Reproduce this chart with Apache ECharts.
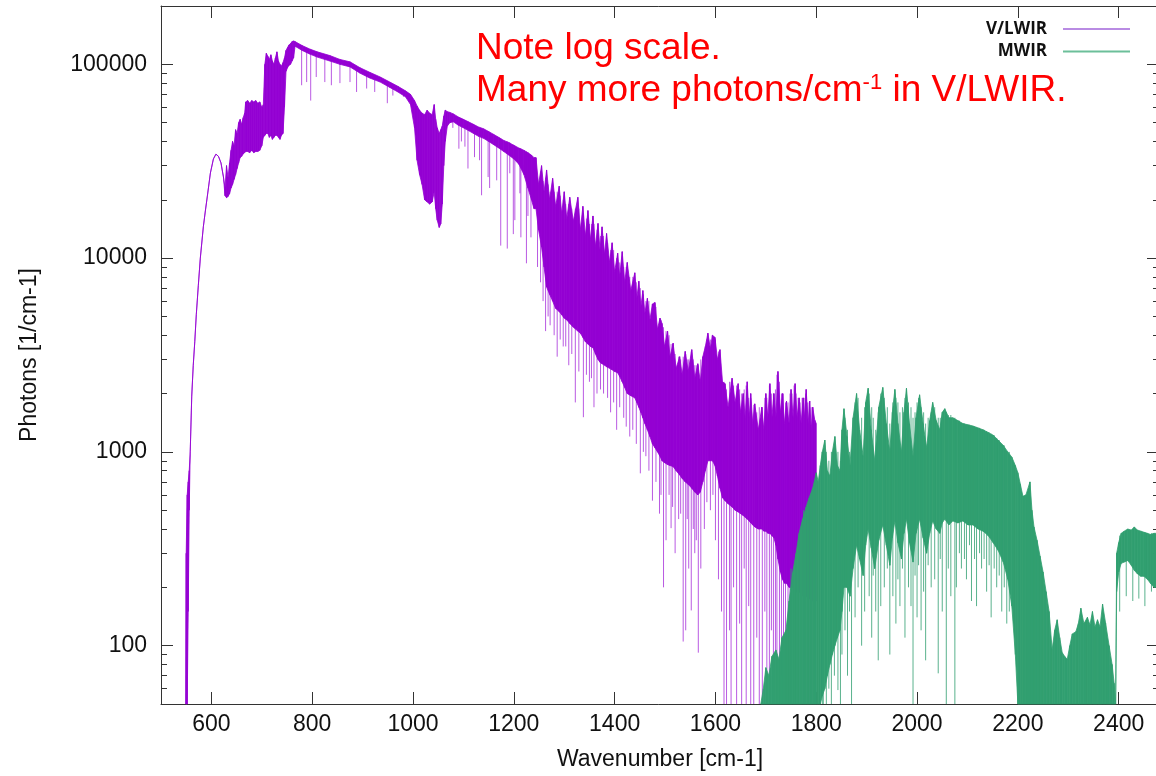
<!DOCTYPE html>
<html>
<head>
<meta charset="utf-8">
<script src="https://cdn.jsdelivr.net/npm/echarts/dist/echarts.min.js"></script>
<style>
html,body{margin:0;padding:0;background:#ffffff;}
#chart{width:1156px;height:776px;}
</style>
</head>
<body>
<div id="chart"></div>
<script>
// ---------- axis ticks ----------
const xTickValues = [600, 800, 1000, 1200, 1400, 1600, 1800, 2000, 2200, 2400];
const yMajorValues = [100, 1000, 10000, 100000];
const yMinorValues = [60, 70, 80, 90, 200, 300, 400, 500, 600, 700, 800, 900,
  2000, 3000, 4000, 5000, 6000, 7000, 8000, 9000,
  20000, 30000, 40000, 50000, 60000, 70000, 80000, 90000];

// ---------- V/LWIR spectrum: [wavenumber, upper envelope, lower envelope] ----------
const vlRise = [
  [549, 40, 40], [550, 300, 40], [552, 600, 40], [554, 700, 150], [556, 800, 500],
  [558, 1000, 1000], [561, 1940, 1940], [564, 2800, 2800], [567, 3700, 3700], [570, 5100, 5100],
  [574, 7200, 7200], [578, 10000, 10000], [584, 14500, 14500], [588, 17500, 17500], [592, 20900, 20900],
  [598, 27500, 27500], [604, 32500, 32500], [609, 34400, 34400], [614, 33500, 33500], [619, 31000, 31000],
  [624, 26200, 26000], [627, 23000, 21000]
];
const vlLowBand = [
  [630, 30000, 20500], [633, 26000, 20800], [636, 31000, 21500], [639, 36000, 23000], [642, 40000, 24000],
  [645, 38000, 25500], [648, 46000, 27000], [651, 44000, 29000], [654, 50000, 31000], [657, 52000, 33000],
  [660, 49000, 33500], [663, 53000, 34500], [666, 56000, 35000], [668, 64000, 35500], [672, 65000, 35500],
  [676, 63000, 35000], [680, 65000, 36000], [684, 64000, 35000], [688, 65000, 35500], [692, 63000, 35500],
  [696, 64000, 36000], [700, 60000, 38000], [703, 62000, 42000], [706, 100000, 43000], [709, 114000, 44000],
  [712, 110000, 44000], [715, 106000, 42000], [718, 112000, 43000], [721, 104000, 41000], [724, 100000, 42000],
  [727, 108000, 43000], [730, 116000, 43000], [733, 104000, 42000], [736, 100000, 41000], [739, 98000, 43000],
  [742, 102000, 44000], [745, 108000, 60000], [748, 118000, 92000], [751, 122000, 96000], [754, 126000, 99000],
  [757, 128000, 100000], [760, 131000, 104000], [763, 132000, 108000]
];
const vlWindow = [
  [766, 131000, 124000], [780, 125000, 118000], [795, 120000, 113000], [810, 116000, 109000], [835, 111000, 104000],
  [855, 106000, 100000], [875, 103000, 97000], [895, 96000, 90000], [914, 91000, 85000], [935, 86000, 81000],
  [954, 81000, 76000], [970, 77000, 72000], [985, 73000, 68000], [995, 70000, 62000], [1003, 65000, 47000],
  [1008, 61000, 32000], [1013, 58000, 27000], [1018, 56000, 24000], [1023, 55000, 20000], [1028, 58000, 19500],
  [1033, 56000, 19000], [1038, 55000, 19500], [1042, 62000, 22000], [1045, 52000, 18000], [1048, 47000, 15700],
  [1052, 44000, 14400], [1055, 46000, 15000], [1058, 48000, 19000], [1061, 54000, 30000], [1064, 58000, 40000],
  [1068, 57000, 48000], [1073, 56500, 50000], [1080, 55500, 50500], [1090, 53500, 48500], [1100, 52000, 47000],
  [1110, 50500, 45500], [1120, 49000, 44000], [1130, 47500, 42500], [1140, 46500, 41500], [1150, 45000, 40000],
  [1160, 43500, 38500], [1170, 42000, 37000], [1180, 40500, 35500], [1190, 39500, 34000], [1200, 38200, 32500],
  [1210, 37000, 30500], [1220, 36000, 27000], [1228, 35000, 23000], [1235, 34000, 20000], [1240, 33000, 18000]
];
const vlDense = [
  [1244, 33000, 18000], [1249, 24000, 14000], [1255, 30000, 11400], [1260, 22000, 9000], [1265, 28500, 7100],
  [1271, 20000, 6500], [1277, 25800, 6000], [1283, 18500, 5500], [1290, 23500, 5300], [1295, 17000, 5100],
  [1300, 22000, 4900], [1305, 16000, 4800], [1311, 20600, 4600], [1318, 15500, 4400], [1327, 20600, 4200],
  [1332, 14000, 4100], [1337, 18500, 3900], [1342, 13000, 3700], [1347, 17600, 3600], [1352, 12500, 3500],
  [1357, 16500, 3450], [1362, 11500, 3200], [1367, 15100, 3000], [1371, 11000, 2900], [1375, 14500, 2850],
  [1380, 10500, 2800], [1384, 13400, 2750], [1390, 9500, 2700], [1395, 12000, 2650], [1400, 8500, 2600],
  [1406, 10600, 2560], [1410, 8000, 2450], [1415, 10800, 2300], [1420, 7500, 2150], [1425, 9500, 2000],
  [1432, 6800, 1950], [1440, 8400, 1900], [1444, 6200, 1800], [1448, 7600, 1700], [1452, 5600, 1600],
  [1456, 6800, 1500], [1460, 5200, 1400], [1465, 6200, 1300], [1470, 4800, 1200], [1475, 5800, 1100],
  [1480, 5900, 1050], [1485, 4300, 1000], [1490, 4900, 950], [1494, 4600, 900], [1499, 3500, 880],
  [1505, 4200, 860], [1510, 3100, 850], [1516, 3640, 840], [1522, 2700, 800], [1529, 3100, 760],
  [1534, 2500, 730], [1540, 3300, 700], [1546, 2600, 680], [1553, 3370, 650], [1559, 2400, 620],
  [1565, 2850, 600], [1570, 2300, 620], [1575, 3100, 700], [1580, 3500, 800], [1585, 4100, 900],
  [1590, 3400, 900], [1594, 4000, 900], [1599, 3900, 850], [1604, 3000, 750], [1609, 3370, 650],
  [1614, 2300, 580], [1619, 2250, 560], [1625, 1700, 540], [1633, 2400, 520], [1639, 1800, 500],
  [1645, 2250, 490], [1650, 1600, 480], [1655, 2000, 470], [1659, 1500, 460], [1663, 2300, 450],
  [1667, 1500, 440], [1670, 2000, 430], [1674, 1400, 420], [1678, 1770, 410], [1685, 1300, 400],
  [1692, 1700, 400], [1696, 1300, 390], [1700, 2000, 390], [1704, 1500, 380], [1708, 2250, 380],
  [1712, 1500, 370], [1716, 2000, 360], [1720, 1500, 330], [1724, 2600, 280], [1729, 1600, 240],
  [1733, 2000, 220], [1737, 1400, 210], [1741, 1830, 210], [1746, 1400, 200], [1750, 2100, 200],
  [1754, 1500, 200], [1758, 2250, 190], [1762, 1500, 190], [1766, 1900, 190], [1770, 1400, 185],
  [1774, 1900, 180], [1777, 1500, 180], [1780, 2100, 180], [1784, 1400, 175], [1787, 1830, 175],
  [1790, 1300, 170], [1793, 1700, 170], [1797, 1460, 170], [1800, 1400, 170]
];
// single absorption lines: [wavenumber, top, bottom]
const vlLines = [
  [779, 125000, 78000], [789, 121000, 81000], [797, 119000, 65000], [808, 116000, 86000], [825, 111000, 81000],
  [838, 108000, 78000], [855, 105000, 80000], [875, 101000, 81000], [888, 97000, 72000], [908, 91000, 75000],
  [924, 88000, 72000], [949, 81000, 63000], [960, 78000, 69000], [981, 73000, 68000],
  [1079, 55000, 47000], [1091, 53000, 36700], [1096, 52500, 40000], [1103, 51500, 37600], [1109, 50500, 29000],
  [1122, 48500, 33200], [1132, 47000, 32000], [1136, 46500, 21100], [1149, 45000, 26200], [1152, 44500, 23000],
  [1166, 42500, 25200], [1174, 41500, 11600], [1187, 40000, 11200], [1192, 39500, 27400], [1199, 38500, 13300],
  [1202, 38000, 15700], [1212, 37000, 21600], [1214, 36800, 12800], [1225, 35500, 9400], [1228, 35000, 16500],
  [1234, 34000, 12800],
  [1247, 26000, 9000], [1253, 28000, 7500], [1258, 25000, 6000], [1263, 26000, 4200], [1268, 24000, 5000],
  [1272, 22000, 4500], [1280, 22000, 4000], [1286, 22000, 3100], [1292, 21000, 3800], [1298, 20000, 3500],
  [1303, 19000, 3500], [1309, 19000, 2800], [1315, 18000, 3200], [1322, 18000, 1800], [1329, 18000, 2600],
  [1338, 17000, 1510], [1344, 16000, 2500], [1350, 15000, 2300], [1354, 15000, 2400], [1359, 15000, 1700],
  [1365, 14000, 2000], [1372, 13000, 2100], [1378, 13000, 2000], [1386, 12000, 1900], [1392, 11000, 1600],
  [1398, 11000, 1800], [1404, 10000, 1300], [1410, 9500, 1700], [1418, 9000, 1500], [1423, 9000, 1350],
  [1430, 8000, 1200], [1436, 8000, 1300], [1443, 7500, 1100], [1451, 7000, 775], [1457, 6500, 1000],
  [1462, 6000, 950], [1468, 6000, 800], [1475, 5800, 560], [1482, 5600, 700], [1489, 4800, 480],
  [1492, 4800, 600], [1497, 4400, 200], [1502, 4200, 350], [1508, 4000, 600], [1512, 3600, 404],
  [1515, 3600, 520], [1520, 3200, 300], [1527, 3100, 450], [1531, 3000, 480], [1536, 3100, 105],
  [1541, 3200, 120], [1544, 3000, 450], [1547, 3000, 250], [1552, 3300, 152], [1556, 3000, 400],
  [1559, 2800, 300], [1562, 2800, 350], [1566, 2800, 92], [1571, 3000, 250], [1578, 3300, 400],
  [1583, 3800, 550], [1590, 3800, 500], [1595, 3900, 600], [1600, 3800, 350], [1606, 3300, 220],
  [1612, 2500, 150],
  [1617, 2300, 40], [1622, 2100, 40], [1628, 2300, 120], [1631, 2300, 40], [1636, 2200, 200],
  [1642, 2200, 40], [1648, 2100, 130], [1652, 2000, 40], [1657, 2100, 250], [1661, 2200, 40],
  [1666, 1900, 160], [1670, 1900, 40], [1676, 1750, 40], [1682, 1600, 110], [1687, 1700, 40],
  [1693, 1700, 40], [1698, 1900, 150], [1702, 1900, 40], [1707, 2200, 40], [1711, 2000, 120],
  [1715, 2000, 40], [1719, 2100, 90], [1722, 2500, 40], [1727, 2300, 40], [1731, 2000, 70],
  [1735, 2000, 40], [1739, 1800, 40], [1744, 1800, 90], [1748, 2000, 40], [1752, 2000, 40],
  [1756, 2200, 40], [1760, 2000, 60], [1764, 1900, 40], [1768, 1800, 40], [1772, 1900, 40],
  [1776, 1900, 80], [1779, 2000, 40], [1783, 1800, 40], [1786, 1800, 40], [1790, 1700, 60],
  [1793, 1700, 40], [1797, 1400, 40]
];

// ---------- MWIR spectrum: [wavenumber, upper envelope, lower envelope] ----------
const mwRise = [
  [1690, 40, 40], [1695, 60, 40], [1700, 77, 40], [1706, 70, 40], [1712, 88, 40],
  [1720, 95, 40], [1726, 85, 40], [1732, 110, 40], [1740, 120, 40], [1746, 170, 40],
  [1753, 237, 40], [1760, 300, 40], [1766, 380, 40], [1773, 450, 40], [1780, 520, 40],
  [1786, 580, 40], [1793, 650, 40], [1800, 780, 40], [1804, 700, 45], [1808, 850, 50],
  [1812, 1000, 55], [1817, 1150, 60], [1822, 800, 70], [1827, 750, 80], [1832, 1000, 90],
  [1837, 1200, 100], [1842, 850, 110], [1847, 800, 120], [1851, 1300, 150], [1855, 1670, 200],
  [1861, 1200, 200], [1867, 850, 180], [1873, 1500, 250]
];
const mwPeak = [
  [1880, 2000, 330], [1886, 1300, 280], [1893, 950, 230], [1898, 1800, 330], [1903, 2130, 400],
  [1909, 1300, 320], [1916, 900, 250], [1924, 1700, 350], [1932, 2150, 420], [1939, 1400, 330],
  [1946, 1000, 260], [1951, 1600, 360], [1956, 2100, 440], [1962, 1400, 340], [1969, 1000, 280],
  [1974, 1600, 380], [1979, 2130, 450], [1985, 1400, 340], [1992, 950, 270], [1998, 1500, 380],
  [2005, 1970, 450], [2012, 1400, 360], [2019, 1050, 300], [2025, 1450, 380], [2031, 1800, 440],
  [2038, 1450, 400], [2045, 1300, 380], [2050, 1600, 430], [2055, 1670, 450], [2063, 1500, 420],
  [2071, 1500, 440], [2081, 1450, 430], [2091, 1400, 440], [2101, 1380, 420], [2111, 1360, 420],
  [2121, 1330, 400], [2131, 1300, 390], [2141, 1260, 370], [2151, 1220, 340], [2161, 1150, 310],
  [2171, 1080, 270], [2180, 1000, 220], [2188, 940, 160], [2195, 850, 90], [2200, 780, 40]
];
const mwTail = [
  [2205, 680, 40], [2210, 590, 40], [2216, 600, 40], [2224, 700, 40], [2228, 500, 40],
  [2232, 410, 40], [2238, 350, 40], [2244, 290, 40], [2250, 240, 40], [2256, 190, 40],
  [2262, 150, 40], [2268, 95, 40], [2273, 120, 40], [2278, 136, 40], [2283, 110, 40],
  [2288, 92, 40], [2293, 88, 40], [2298, 85, 40], [2303, 100, 40], [2308, 115, 40],
  [2315, 118, 40], [2320, 130, 40], [2325, 156, 40], [2331, 130, 40], [2338, 140, 40],
  [2343, 128, 40], [2348, 150, 40], [2353, 125, 40], [2358, 136, 40], [2363, 125, 40],
  [2368, 164, 40], [2374, 131, 40], [2381, 100, 40], [2387, 80, 40], [2391, 64, 40],
  [2394, 50, 40], [2396, 300, 190], [2400, 340, 240], [2405, 380, 266], [2411, 390, 270],
  [2418, 400, 275], [2425, 395, 260], [2431, 410, 245], [2437, 395, 235], [2444, 390, 228],
  [2450, 385, 228], [2457, 380, 220], [2463, 375, 210], [2470, 380, 200], [2476, 380, 200],
  [2480, 375, 200]
];
const mwLines = [
  [1750, 250, 40], [1760, 280, 40], [1775, 500, 40], [1782, 520, 40], [1790, 600, 40],
  [1798, 700, 40], [1812, 1000, 40], [1814, 1000, 40], [1820, 1000, 45], [1825, 900, 60],
  [1830, 1000, 40], [1836, 1100, 70], [1843, 1000, 59], [1848, 900, 40], [1851, 1200, 90],
  [1857, 1500, 120], [1862, 1300, 70], [1866, 1000, 150], [1870, 1000, 40], [1877, 1800, 140],
  [1883, 1900, 200], [1890, 1500, 100], [1896, 1700, 150], [1905, 2000, 180], [1910, 1700, 110],
  [1913, 1500, 230], [1918, 1300, 150], [1923, 1600, 84], [1928, 2000, 160], [1935, 1900, 200],
  [1941, 1700, 250], [1946, 1400, 90], [1952, 1800, 180], [1958, 1900, 130], [1962, 1800, 220],
  [1966, 1600, 160], [1971, 1700, 250], [1976, 1900, 110], [1983, 1800, 200], [1988, 1700, 160],
  [1992, 1500, 40], [1996, 1600, 230], [2000, 1800, 140], [2003, 1900, 260], [2008, 1700, 120],
  [2013, 1600, 190], [2017, 1400, 84], [2022, 1500, 260], [2028, 1600, 200], [2035, 1700, 220],
  [2042, 1500, 72], [2046, 1500, 280], [2050, 1500, 150], [2058, 1600, 40], [2062, 1550, 250],
  [2067, 1550, 180], [2075, 1500, 40], [2078, 1450, 200], [2084, 1450, 300], [2088, 1400, 250],
  [2094, 1400, 280], [2098, 1380, 220], [2104, 1380, 330], [2108, 1360, 170], [2114, 1350, 280],
  [2118, 1340, 160], [2124, 1330, 300], [2128, 1300, 250], [2133, 1300, 280], [2138, 1280, 190],
  [2143, 1260, 260], [2147, 1240, 140], [2153, 1220, 250], [2158, 1180, 200], [2163, 1150, 230],
  [2168, 1100, 150], [2173, 1080, 200], [2178, 1000, 130], [2183, 1000, 150],
  [2402, 370, 150], [2415, 390, 180], [2428, 400, 170], [2440, 390, 175], [2452, 385, 160],
  [2465, 380, 190]
];

const vlBand = vlRise.concat(vlLowBand, vlWindow, vlDense);
const mwBand = mwRise.concat(mwPeak, mwTail);

// ---------- styling ----------
const FONT = '"Liberation Sans", Arial, Helvetica, sans-serif';
const PURPLE = '#9400d3';
const PURPLE_LINE = 'rgba(148,0,211,0.65)';
const GREEN = '#319f70';
const GREEN_LINE = 'rgba(49,159,112,0.8)';
const AXIS_COLOR = '#333333';

function clampToGrid(pt, cs) {
  return [pt[0], Math.min(cs.y + cs.height, Math.max(cs.y, pt[1]))];
}
function bandRenderer(rows, color) {
  return function (params, api) {
    const i = params.dataIndex;
    if (i >= rows.length - 1) return null;
    const a = rows[i], b = rows[i + 1];
    const cs = params.coordSys;
    const pts = [
      clampToGrid(api.coord([a[0], a[1]]), cs),
      clampToGrid(api.coord([b[0], b[1]]), cs),
      clampToGrid(api.coord([b[0], b[2]]), cs),
      clampToGrid(api.coord([a[0], a[2]]), cs)
    ];
    return {
      type: 'polygon',
      shape: { points: pts },
      style: { fill: color, stroke: color, lineWidth: 0.8 }
    };
  };
}
function lineRenderer(rows, color) {
  return function (params, api) {
    const r = rows[params.dataIndex];
    const cs = params.coordSys;
    const p1 = clampToGrid(api.coord([r[0], r[1]]), cs);
    const p2 = clampToGrid(api.coord([r[0], r[2]]), cs);
    return {
      type: 'line',
      shape: { x1: p1[0], y1: p1[1], x2: p2[0], y2: p2[1] },
      style: { stroke: color, lineWidth: 1 }
    };
  };
}

function logAxis(position, opts) {
  return Object.assign({
    type: 'log', logBase: 10, min: 50, max: 200000, position: position,
    gridIndex: 0, splitLine: { show: false }, minorTick: { show: false },
    axisLine: { show: true, onZero: false, lineStyle: { color: AXIS_COLOR, width: 1 } },
    axisLabel: { show: false }
  }, opts);
}

const chart = echarts.init(document.getElementById('chart'), null, { renderer: 'canvas' });
chart.setOption({
  animation: false,
  backgroundColor: '#ffffff',
  grid: { left: 161, right: -3, top: 6, bottom: 72, containLabel: false, outerBoundsMode: 'none' },
  legend: {
    data: [
      { name: 'V/LWIR', icon: 'rect', itemStyle: { color: '#b98be3' } },
      { name: 'MWIR', icon: 'rect', itemStyle: { color: '#6cbf9a' } }
    ],
    orient: 'vertical', align: 'right', right: 26, top: 20, padding: 0,
    itemWidth: 67, itemHeight: 2, itemGap: 4.5, selectedMode: false,
    textStyle: { fontFamily: '"Open Sans", "Noto Sans", sans-serif', fontWeight: 'bold', fontSize: 17,
      color: '#111111', lineHeight: 18, padding: [0, 11, 0, 0] }
  },
  xAxis: [
    {
      type: 'value', min: 500, max: 2480, position: 'bottom', gridIndex: 0,
      name: 'Wavenumber [cm-1]', nameLocation: 'middle', nameGap: 44, nameMoveOverlap: false,
      nameTextStyle: { fontFamily: FONT, fontSize: 23, color: '#111111' },
      axisLine: { show: true, onZero: false, lineStyle: { color: AXIS_COLOR, width: 1 } },
      axisTick: { show: true, inside: true, length: 12, customValues: xTickValues, lineStyle: { color: AXIS_COLOR } },
      axisLabel: { show: true, customValues: xTickValues, margin: 9, fontFamily: FONT, fontSize: 23, color: '#111111',
        formatter: function (v) { return String(Math.round(v)); } },
      splitLine: { show: false }
    },
    {
      type: 'value', min: 500, max: 2480, position: 'top', gridIndex: 0,
      axisLine: { show: true, onZero: false, lineStyle: { color: AXIS_COLOR, width: 1 } },
      axisTick: { show: true, inside: true, length: 12, customValues: xTickValues, lineStyle: { color: AXIS_COLOR } },
      axisLabel: { show: false },
      splitLine: { show: false }
    }
  ],
  yAxis: [
    logAxis('left', {
      name: 'Photons [1/cm-1]', nameLocation: 'middle', nameGap: 120, nameMoveOverlap: false,
      nameTextStyle: { fontFamily: FONT, fontSize: 23, color: '#111111' },
      axisTick: { show: true, inside: true, length: 12, customValues: yMajorValues, lineStyle: { color: AXIS_COLOR } },
      axisLabel: { show: true, customValues: yMajorValues, margin: 14, fontFamily: FONT, fontSize: 23, color: '#111111',
        formatter: function (v) { return String(Math.round(v)); } }
    }),
    logAxis('left', {
      axisLine: { show: false },
      axisTick: { show: true, inside: true, length: 6, customValues: yMinorValues, lineStyle: { color: AXIS_COLOR } }
    }),
    logAxis('right', {
      axisTick: { show: true, inside: true, length: 12, customValues: yMajorValues, lineStyle: { color: AXIS_COLOR } }
    }),
    logAxis('right', {
      axisLine: { show: false },
      axisTick: { show: true, inside: true, length: 6, customValues: yMinorValues, lineStyle: { color: AXIS_COLOR } }
    })
  ],
  graphic: [
    {
      type: 'text', x: 476, y: 30, silent: true,
      style: { text: 'Note log scale.', fill: '#ff0000', fontFamily: FONT, fontSize: 37, verticalAlign: 'top' }
    },
    {
      type: 'text', x: 476, y: 72, silent: true,
      style: {
        text: '{a|Many more photons/cm}{s|-1}{a| in V/LWIR.}',
        verticalAlign: 'top',
        rich: {
          a: { fill: '#ff0000', fontFamily: FONT, fontSize: 37 },
          s: { fill: '#ff0000', fontFamily: FONT, fontSize: 22, verticalAlign: 'top' }
        }
      }
    }
  ],
  series: [
    {
      name: 'V/LWIR', type: 'custom', xAxisIndex: 0, yAxisIndex: 0, silent: true,
      renderItem: bandRenderer(vlBand, PURPLE), data: vlBand, encode: { x: 0, y: [1, 2] },
      itemStyle: { color: PURPLE }, z: 2
    },
    {
      name: 'V/LWIR', type: 'custom', xAxisIndex: 0, yAxisIndex: 0, silent: true,
      renderItem: lineRenderer(vlLines, PURPLE_LINE), data: vlLines, encode: { x: 0, y: [1, 2] },
      itemStyle: { color: PURPLE }, z: 2
    },
    {
      name: 'MWIR', type: 'custom', xAxisIndex: 0, yAxisIndex: 0, silent: true,
      renderItem: bandRenderer(mwBand, GREEN), data: mwBand, encode: { x: 0, y: [1, 2] },
      itemStyle: { color: GREEN }, z: 3
    },
    {
      name: 'MWIR', type: 'custom', xAxisIndex: 0, yAxisIndex: 0, silent: true,
      renderItem: lineRenderer(mwLines, GREEN_LINE), data: mwLines, encode: { x: 0, y: [1, 2] },
      itemStyle: { color: GREEN }, z: 3
    }
  ]
});
</script>
</body>
</html>
